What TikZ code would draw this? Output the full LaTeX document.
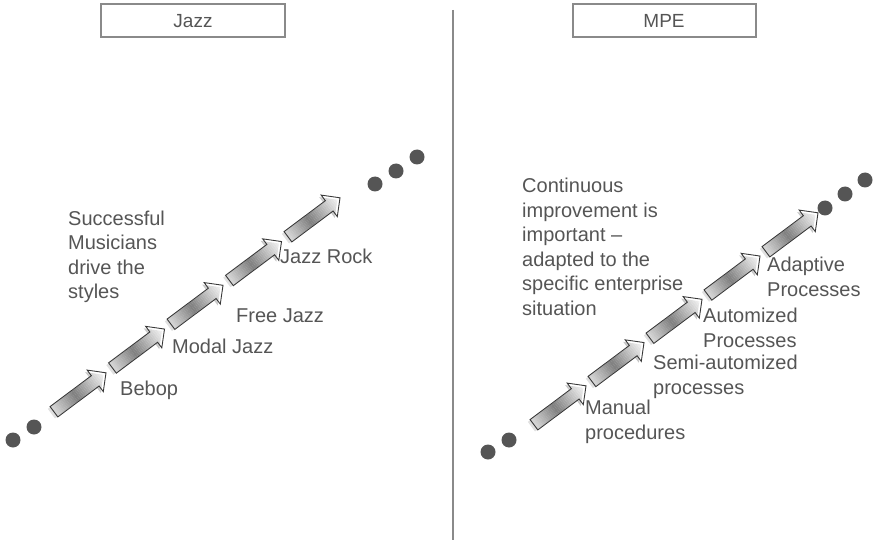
\documentclass[tikz,border=0pt]{standalone}
\usepackage{fontspec}
\setmainfont{Liberation Sans}
\usetikzlibrary{shapes.arrows,calc}
\definecolor{txt}{HTML}{555555}
\definecolor{dotc}{HTML}{555555}
\definecolor{boxc}{HTML}{8A8A8A}
\newcommand\metalarrow[2]{%
  \begin{scope}[shift={#2}, rotate=36.8]
    \clip (-32.5,-6) -- (19.5,-6) -- (19.5,-13) -- (32.5,0) -- (19.5,13) -- (19.5,6) -- (-32.5,6) -- cycle;
    \foreach \k in {0,...,32} {
      \pgfmathsetmacro\vv{max(3, 50 - 85*abs(\k/32-0.45))}
      \fill[black!\vv] ({-32.6+\k*2.05},-14) rectangle ++(2.2,28);
    }
  \end{scope}
  \node[stepar] (#1) at #2 {};
}
\begin{document}
\begin{tikzpicture}[x=1pt,y=-1pt,
  lbl/.style={anchor=base west, inner sep=0pt, align=left, font=\fontsize{20}{24.5}\selectfont, text=txt},
  stepar/.style={single arrow, draw=black!78, line width=0.9pt, minimum height=65pt,
    text height=6pt, text depth=6pt, text width=0pt,
    single arrow head extend=7pt, single arrow head indent=0pt, inner sep=0pt, rotate=36.8},
  dotn/.style={circle, fill=dotc, inner sep=0pt, minimum size=15pt},
  tbox/.style={draw=boxc, line width=2pt, fill=white, minimum height=33pt, inner sep=0pt,
    font=\fontsize{19}{22}\selectfont, text=txt}]
\useasboundingbox (0,0) rectangle (874,545);
% title boxes
\node[tbox, minimum width=184pt] (tjazz) at (193,21) {Jazz};
\node[tbox, minimum width=183pt] (tmpe) at (664,21) {MPE};
% divider
\coordinate (dtop) at (453,10);
\coordinate (dbot) at (453,540);
\draw[boxc, line width=2pt] (dtop) -- (dbot);
% left arrows
\metalarrow{la0}{(77.4,394.2)}
\metalarrow{la1}{(135.9,350.45)}
\metalarrow{la2}{(194.4,306.7)}
\metalarrow{la3}{(252.9,262.95)}
\metalarrow{la4}{(311.4,219.2)}
% right arrows
\metalarrow{ra0}{(557.4,407.2)}
\metalarrow{ra1}{(615.4,363.95)}
\metalarrow{ra2}{(673.4,320.7)}
\metalarrow{ra3}{(731.4,277.45)}
\metalarrow{ra4}{(789.4,234.2)}
% dots
\node[dotn] (ld1) at (13,440) {};
\node[dotn] (ld2) at (34,427) {};
\node[dotn] (lu1) at (375,184) {};
\node[dotn] (lu2) at (396,171) {};
\node[dotn] (lu3) at (417,157) {};
\node[dotn] (rd1) at (488,452) {};
\node[dotn] (rd2) at (509,440) {};
\node[dotn] (ru1) at (825,208) {};
\node[dotn] (ru2) at (845,194) {};
\node[dotn] (ru3) at (865,180) {};
% left labels (base = last line)
\node[lbl] (succ) at (68,298.5) {Successful\\Musicians\\drive the\\styles};
\node[lbl] (bebop) at (120,395) {Bebop};
\node[lbl] (modal) at (172,353) {Modal Jazz};
\node[lbl] (free) at (236,322) {Free Jazz};
\node[lbl] (rock) at (280,263) {Jazz Rock};
% right labels
\node[lbl] (cont) at (522,315) {Continuous\\improvement is\\important --\\adapted to the\\specific enterprise\\situation};
\node[lbl] (manual) at (585,439) {Manual\\procedures};
\node[lbl] (semi) at (653,394) {Semi-automized\\processes};
\node[lbl] (auto) at (703,347) {Automized\\Processes};
\node[lbl] (adapt) at (767,296) {Adaptive\\Processes};
\end{tikzpicture}
\end{document}
